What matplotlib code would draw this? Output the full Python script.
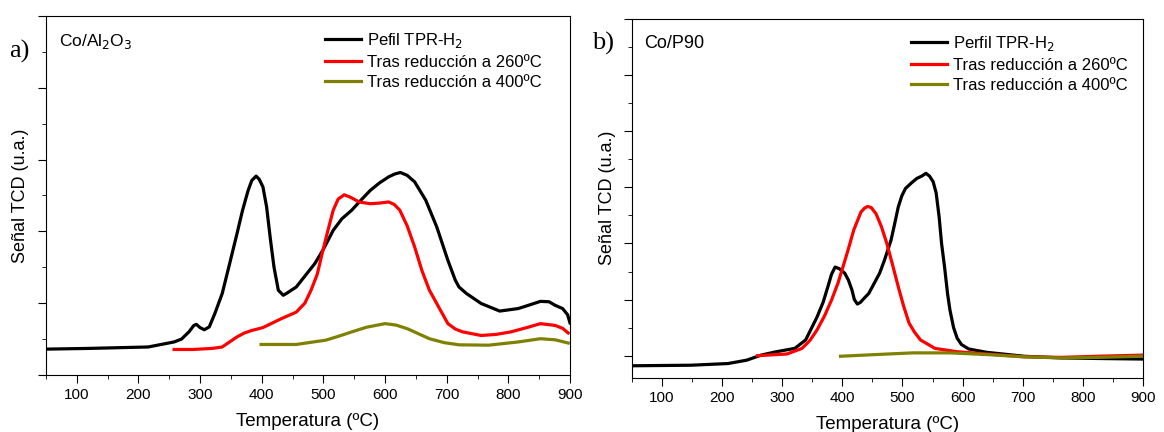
import matplotlib
matplotlib.use("Agg")
import matplotlib.pyplot as plt
from matplotlib.ticker import MultipleLocator

plt.rcParams['font.family'] = ['Liberation Sans', 'DejaVu Sans']

# Panel a) Co/Al2O3
a_black_x = [50, 120, 216, 258, 270, 282, 290, 294, 300, 307, 315, 324, 336, 348, 360, 369, 378,
             384, 391, 396, 402, 408, 414, 420, 427, 435, 440, 456, 486, 500, 516, 530, 546, 561,
             576, 591, 606, 616, 625, 636, 648, 666, 684, 702, 714, 720, 732, 756, 786, 816, 836,
             852, 866, 876, 888, 896, 900]
a_black_y = [0.72, 0.74, 0.78, 0.92, 1.0, 1.2, 1.38, 1.41, 1.32, 1.26, 1.34, 1.71, 2.27, 3.1, 3.94,
             4.59, 5.14, 5.42, 5.54, 5.45, 5.24, 4.68, 3.8, 3.0, 2.36, 2.22, 2.27, 2.45, 3.10, 3.5,
             4.03, 4.35, 4.59, 4.87, 5.14, 5.35, 5.52, 5.6, 5.64, 5.56, 5.38, 4.87, 4.12, 3.19, 2.64,
             2.45, 2.27, 1.99, 1.78, 1.85, 1.96, 2.05, 2.04, 1.94, 1.85, 1.68, 1.45]
a_red_x = [258, 288, 320, 336, 348, 360, 372, 384, 402, 432, 456, 470, 480, 490, 498, 507, 516,
           524, 534, 544, 558, 576, 592, 606, 615, 624, 636, 648, 660, 672, 690, 702, 714, 726,
           756, 780, 804, 830, 852, 876, 888, 897]
a_red_y = [0.71, 0.71, 0.74, 0.78, 0.92, 1.06, 1.17, 1.24, 1.32, 1.57, 1.75, 2.0, 2.36, 2.8, 3.38,
           4.0, 4.59, 4.9, 5.02, 4.95, 4.82, 4.77, 4.79, 4.82, 4.75, 4.59, 4.15, 3.57, 2.9, 2.36,
           1.8, 1.43, 1.28, 1.20, 1.10, 1.13, 1.20, 1.32, 1.43, 1.38, 1.3, 1.17]
a_olive_x = [399, 456, 504, 525, 546, 570, 600, 618, 636, 654, 672, 696, 720, 768, 816, 852, 876,
             897]
a_olive_y = [0.85, 0.85, 0.97, 1.08, 1.20, 1.33, 1.43, 1.39, 1.29, 1.15, 1.01, 0.9, 0.84, 0.83,
             0.92, 1.01, 0.98, 0.89]

# Panel b) Co/P90
b_black_x = [50, 148, 210, 241, 265, 290, 321, 339, 358, 368, 376, 382, 388, 395, 404, 410, 416,
             420, 425, 430, 436, 444, 462, 470, 481, 487, 493, 499, 505, 515, 524, 532, 539, 545,
             551, 556, 561, 565, 570, 575, 579, 585, 591, 598, 610, 640, 702, 764, 825, 900]
b_black_y = [-0.18, -0.17, -0.14, -0.08, 0.01, 0.07, 0.13, 0.28, 0.69, 0.95, 1.23, 1.45, 1.58, 1.55,
             1.47, 1.35, 1.17, 1.0, 0.92, 0.95, 1.02, 1.11, 1.47, 1.7, 2.06, 2.35, 2.65, 2.85,
             2.98, 3.08, 3.16, 3.2, 3.25, 3.2, 3.10, 2.9, 2.47, 2.0, 1.58, 1.1, 0.81, 0.5, 0.31,
             0.2, 0.12, 0.06, -0.01, -0.04, -0.05, -0.06]
b_red_x = [259, 308, 333, 346, 358, 370, 382, 393, 401, 410, 419, 431, 437, 442, 448, 456, 465,
           474, 484, 493, 502, 511, 520, 530, 554, 591, 640, 702, 764, 825, 899]
b_red_y = [0.0, 0.03, 0.13, 0.27, 0.46, 0.7, 0.99, 1.3, 1.58, 1.9, 2.24, 2.56, 2.63, 2.66, 2.64,
           2.53, 2.3, 2.0, 1.6, 1.23, 0.88, 0.58, 0.42, 0.28, 0.13, 0.07, 0.03, -0.02, -0.03,
           -0.01, 0.01]
b_olive_x = [397, 456, 517, 579, 640, 702, 764, 825, 899]
b_olive_y = [-0.01, 0.02, 0.05, 0.05, 0.02, -0.02, -0.04, -0.03, -0.01]

labels_a = ['Pefil TPR-H$_2$', 'Tras reducción a 260ºC', 'Tras reducción a 400ºC']
labels_b = ['Perfil TPR-H$_2$', 'Tras reducción a 260ºC', 'Tras reducción a 400ºC']
colores = ['black', '#ff0000', '#808000']

fig = plt.figure(figsize=(11.64, 4.32), dpi=100)
ax1 = fig.add_axes([0.0394, 0.132, 0.4503, 0.831])
ax2 = fig.add_axes([0.5428, 0.126, 0.4392, 0.830])

lw = 2.3
ax1.plot(a_black_x, a_black_y, color=colores[0], lw=lw, label=labels_a[0])
ax1.plot(a_red_x, a_red_y, color=colores[1], lw=lw, label=labels_a[1])
ax1.plot(a_olive_x, a_olive_y, color=colores[2], lw=lw, label=labels_a[2])
ax1.set_ylim(0, 10)
ax1.yaxis.set_major_locator(MultipleLocator(2))
ax1.yaxis.set_minor_locator(MultipleLocator(1))

ax2.plot(b_black_x, b_black_y, color=colores[0], lw=lw, label=labels_b[0])
ax2.plot(b_red_x, b_red_y, color=colores[1], lw=lw, label=labels_b[1])
ax2.plot(b_olive_x, b_olive_y, color=colores[2], lw=lw, label=labels_b[2])
ax2.set_ylim(-0.39, 6.0)
ax2.yaxis.set_major_locator(MultipleLocator(1))
ax2.yaxis.set_minor_locator(MultipleLocator(0.5))

for ax, lx, pad in ((ax1, 0.532, 6), (ax2, 0.546, 5)):
    ax.set_xlim(50, 900)
    ax.xaxis.set_major_locator(MultipleLocator(100))
    ax.xaxis.set_minor_locator(MultipleLocator(50))
    ax.tick_params(which='both', direction='out', top=False, right=False, labelsize=11)
    ax.tick_params(which='major', length=6)
    ax.tick_params(which='minor', length=3)
    ax.tick_params(axis='y', labelleft=False)
    ax.set_xlabel('Temperatura (ºC)', fontsize=13.5, labelpad=8)
    ax.set_ylabel('Señal TCD (u.a.)', fontsize=13, labelpad=pad)
    ax.legend(loc='upper left', bbox_to_anchor=(lx, 0.958), frameon=False, fontsize=12,
              handlelength=2.16, handletextpad=0.36, labelspacing=0.3, borderpad=0,
              borderaxespad=0)

ax1.text(0.025, 0.955, 'Co/Al$_2$O$_3$', transform=ax1.transAxes, fontsize=12.5, va='top')
ax2.text(0.024, 0.955, 'Co/P90', transform=ax2.transAxes, fontsize=13, va='top')
fig.text(0.008, 0.88, 'a)', fontsize=19, family='Liberation Serif', va='center')
fig.text(0.509, 0.90, 'b)', fontsize=19, family='Liberation Serif', va='center')

plt.savefig('out.png', dpi=100)
